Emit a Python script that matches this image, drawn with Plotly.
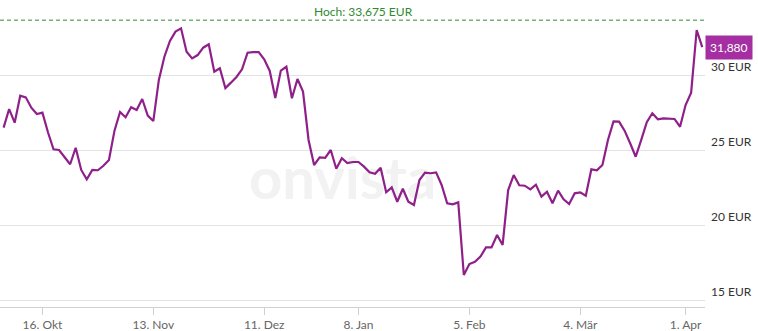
import plotly.graph_objects as go

# Daily closing prices (EUR), trading-day index 0..126
prices = [
    26.51, 27.75, 26.84, 28.64, 28.53, 27.84, 27.42, 27.51, 26.20, 25.07,
    25.02, 24.57, 24.07, 25.17, 23.69, 23.07, 23.69, 23.67, 23.97, 24.35,
    26.31, 27.55, 27.20, 27.87, 27.69, 28.42, 27.31, 26.95, 29.69, 31.24,
    32.29, 32.91, 33.13, 31.57, 31.13, 31.35, 31.84, 32.07, 30.24, 30.47,
    29.15, 29.51, 29.89, 30.40, 31.51, 31.55, 31.55, 31.07, 30.29, 28.49,
    30.31, 30.57, 28.47, 29.75, 28.91, 25.69, 24.02, 24.53, 24.49, 25.02,
    23.77, 24.47, 24.15, 24.22, 24.22, 23.91, 23.53, 23.44, 23.84, 22.20,
    22.53, 21.57, 22.44, 21.57, 21.35, 23.02, 23.51, 23.47, 23.53, 22.69,
    21.47, 21.40, 21.53, 16.69, 17.42, 17.57, 17.91, 18.53, 18.53, 19.35,
    18.69, 22.35, 23.35, 22.67, 22.64, 22.40, 22.71, 21.91, 22.24, 21.47,
    22.31, 21.73, 21.42, 22.13, 22.20, 21.97, 23.73, 23.67, 24.02, 25.69,
    26.93, 26.91, 26.31, 25.47, 24.57, 25.69, 26.87, 27.47, 27.07, 27.13,
    27.09, 27.09, 26.57, 28.02, 28.84, 33.02, 31.88,
]
days = list(range(len(prices)))

tick_pos = [7, 27, 47, 64, 84, 104, 123]
tick_labels = ["16. Okt", "13. Nov", "11. Dez", "8. Jan", "5. Feb", "4. Mär", "1. Apr"]

y_ticks = [15, 20, 25, 30]
y_tick_labels = ["15 EUR", "20 EUR", "25 EUR", "30 EUR"]

high_value = 33.675
high_label = "Hoch: 33,675 EUR"
last_label = "31,880"

X_RANGE = [-0.65, 126.5]
Y_RANGE = [14.553, 35.02]

LINE = "#902089"
BADGE = "#a42ea2"
GREEN = "#2f8a2f"
FONT = "Lato"

fig = go.Figure()

# watermark (behind the line)
wm_x = X_RANGE[0] + 0.486 * (X_RANGE[1] - X_RANGE[0])
wm_y = Y_RANGE[0] + 0.40 * (Y_RANGE[1] - Y_RANGE[0])
fig.add_trace(go.Scatter(
    x=[wm_x], y=[wm_y], mode="text", text=["<b>onvista</b>"],
    textfont=dict(family=FONT, size=58, color="#f2f2f2"),
    hoverinfo="skip", showlegend=False, cliponaxis=False,
))

fig.add_trace(go.Scatter(
    x=days, y=prices, mode="lines",
    line=dict(color=LINE, width=2.2),
    hoverinfo="skip", showlegend=False,
))

# high line
fig.add_shape(type="line", xref="paper", x0=0, x1=1, yref="y",
              y0=high_value, y1=high_value,
              line=dict(color=GREEN, width=1, dash="4px,3px"))
fig.add_annotation(xref="paper", x=0.515, yref="y", y=high_value,
                   yanchor="bottom", text=high_label, showarrow=False,
                   font=dict(family=FONT, size=12, color=GREEN), yshift=-1)

# last price badge
fig.add_annotation(xref="paper", x=1, xanchor="left", yref="y", y=prices[-1],
                   text=last_label, showarrow=False, bgcolor=BADGE,
                   borderpad=4, font=dict(family=FONT, size=12, color="white"))

fig.update_layout(
    width=758, height=331,
    margin=dict(l=0, r=53, t=0, b=24),
    paper_bgcolor="white", plot_bgcolor="white",
    font=dict(family=FONT, size=12, color="#333"),
    xaxis=dict(
        range=X_RANGE, tickmode="array", tickvals=tick_pos,
        ticktext=tick_labels, showgrid=False, zeroline=False,
        showline=True, linecolor="#d0d0d0", linewidth=1,
        ticks="outside", ticklen=7, tickcolor="#d0d0d0",
        tickfont=dict(family=FONT, size=12, color="#666"),
    ),
    yaxis=dict(
        range=Y_RANGE, side="right", tickmode="array",
        tickvals=y_ticks, ticktext=y_tick_labels,
        showgrid=True, gridcolor="#e3e3e3", gridwidth=1, zeroline=False,
        ticks="", ticklabelposition="outside top", ticklabelstandoff=5,
        tickfont=dict(family=FONT, size=12, color="#333"),
    ),
)

fig.write_html("out.html")
